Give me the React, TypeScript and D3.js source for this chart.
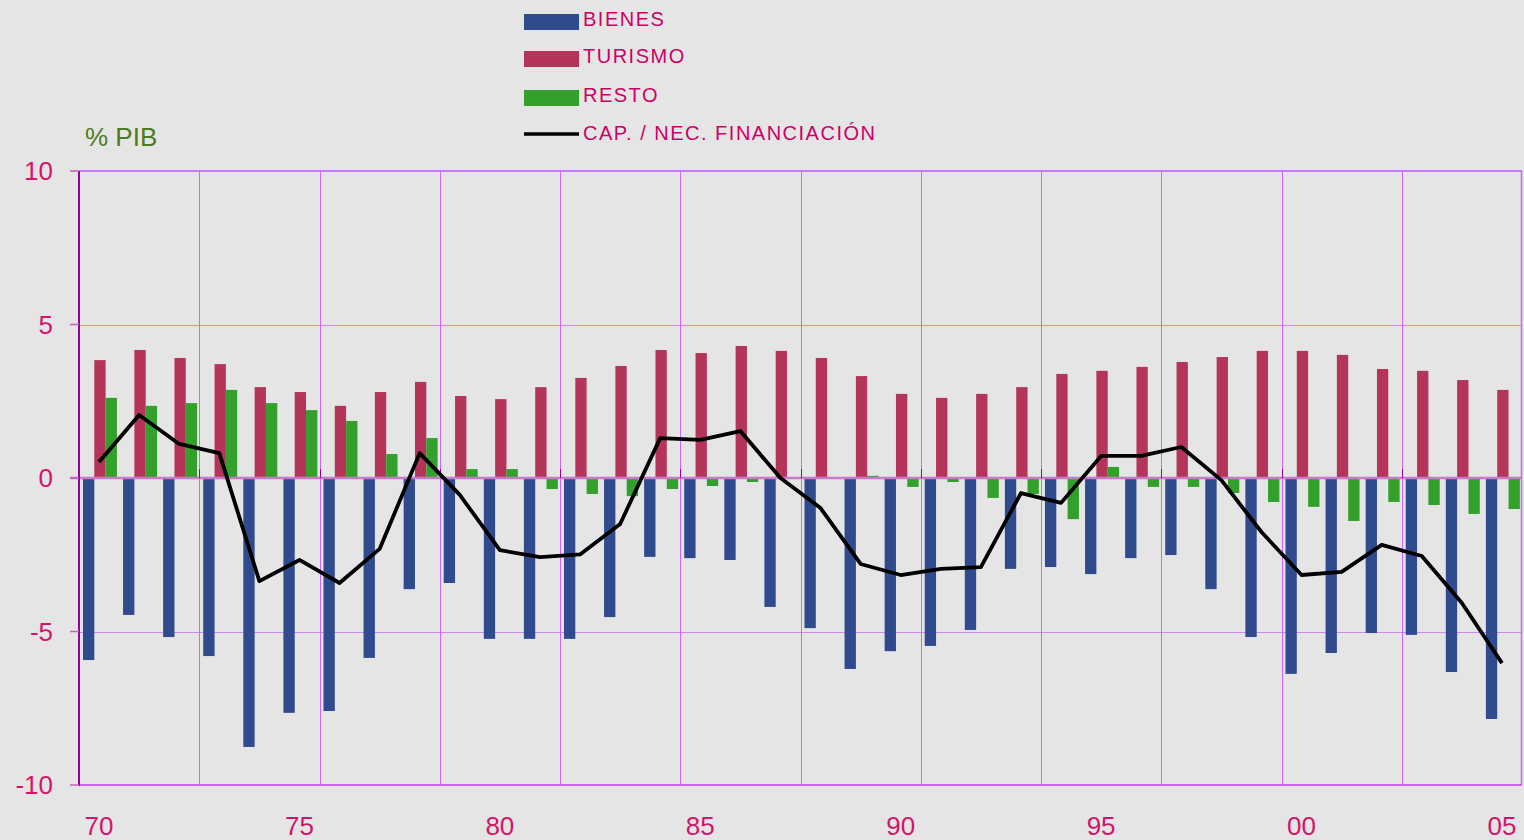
import React from 'react';
import * as d3 from 'd3';

// Balanza por cuenta corriente, % PIB (1970-2005)
const years = d3.range(1970, 2006).map(String);
const bienes = [-5.93, -4.46, -5.18, -5.80, -8.76, -7.65, -7.59, -5.86, -3.62, -3.42,
  -5.24, -5.24, -5.24, -4.53, -2.57, -2.61, -2.67, -4.20, -4.89, -6.22,
  -5.64, -5.47, -4.95, -2.96, -2.90, -3.13, -2.61, -2.51, -3.62, -5.18,
  -6.38, -5.70, -5.05, -5.11, -6.32, -7.85];
const turismo = [3.84, 4.17, 3.91, 3.71, 2.96, 2.80, 2.35, 2.80, 3.13, 2.67,
  2.57, 2.96, 3.26, 3.65, 4.17, 4.07, 4.30, 4.14, 3.91, 3.32,
  2.74, 2.61, 2.74, 2.96, 3.39, 3.49, 3.62, 3.78, 3.94, 4.14,
  4.14, 4.01, 3.55, 3.49, 3.19, 2.87];
const resto = [2.61, 2.35, 2.44, 2.87, 2.44, 2.21, 1.86, 0.78, 1.30, 0.29,
  0.29, -0.36, -0.52, -0.59, -0.36, -0.26, -0.13, 0.0, 0.02, 0.07,
  -0.29, -0.13, -0.65, -0.52, -1.34, 0.36, -0.29, -0.29, -0.49, -0.78,
  -0.94, -1.40, -0.78, -0.88, -1.17, -1.01];
const capNec = [0.52, 2.05, 1.11, 0.81, -3.36, -2.67, -3.42, -2.31, 0.81, -0.55,
  -2.35, -2.58, -2.49, -1.50, 1.30, 1.24, 1.53, 0.0, -0.98, -2.80,
  -3.16, -2.96, -2.90, -0.49, -0.81, 0.72, 0.72, 1.01, -0.07, -1.76,
  -3.16, -3.06, -2.18, -2.54, -4.07, -6.03];

const yTicks = [-10, -5, 0, 5, 10];
const xLabelYears = ['1970', '1975', '1980', '1985', '1990', '1995', '2000', '2005'];
const seriesKeys = ['bienes', 'turismo', 'resto'];
const seriesNames = ['BIENES', 'TURISMO', 'RESTO', 'CAP. / NEC. FINANCIACIÓN'];

const colors: Record<string, string> = {
  bienes: '#2f4b8e',
  turismo: '#b5355a',
  resto: '#33a02c',
};

const W = 1524;
const H = 840;
const margin = { top: 171, right: 2, bottom: 55, left: 79 };

// snap a coordinate to the pixel grid for 1px lines
const crisp = (v: number) => Math.round(v) + 0.5;

export default function App() {
  const x = d3.scaleBand<string>()
    .domain(years)
    .range([margin.left, W - margin.right])
    .paddingInner(0)
    .paddingOuter(0);

  const y = d3.scaleLinear()
    .domain([-10, 10])
    .range([H - margin.bottom, margin.top]);

  const inner = d3.scaleBand<string>()
    .domain(seriesKeys)
    .range([0, x.bandwidth()])
    .paddingInner(0)
    .paddingOuter(0.27)
    .align(0.65);

  const values: Record<string, number[]> = { bienes, turismo, resto };

  const line = d3.line<number>()
    .x((_, i) => (x(years[i]) as number) + x.bandwidth() / 2)
    .y(d => y(d));

  // vertical grid every 3 years
  const gridYears = years.filter((_, i) => i > 0 && i % 3 === 0);
  const x0 = margin.left;
  const x1 = W - margin.right;
  const labelColor = '#d4146a';
  const font = '"Liberation Sans", Arial, Helvetica, sans-serif';

  return (
    <div style={{ position: 'absolute', left: 0, top: 0, width: W, height: H, background: '#e5e5e5' }}>
      <svg width={W} height={H} style={{ display: 'block' }} fontFamily={font}>
        <rect x={0} y={0} width={W} height={H} fill="#e5e5e5" />

        {/* horizontal grid */}
        {[-5, 5].map(t => (
          <line key={'h' + t} x1={x0} x2={x1} y1={crisp(y(t))} y2={crisp(y(t))}
            stroke="#cc88f2" strokeWidth={1} />
        ))}
        <line x1={x0} x2={x1} y1={y(10)} y2={y(10)} stroke="#cc77ff" strokeWidth={2} />
        <line x1={x0} x2={x1} y1={y(-10)} y2={y(-10)} stroke="#cc66ee" strokeWidth={2} />
        {/* vertical grid */}
        {gridYears.map(yr => (
          <line key={'v' + yr} x1={crisp(x(yr) as number)} x2={crisp(x(yr) as number)} y1={y(10)} y2={y(-10)}
            stroke="#cc66ff" strokeWidth={1} />
        ))}
        <line x1={crisp(x1 - 1)} x2={crisp(x1 - 1)} y1={y(10)} y2={y(-10)} stroke="#cc66ff" strokeWidth={1.5} />

        {/* bars */}
        {seriesKeys.map(k => (
          <g key={k}>
            {values[k].map((v, i) => {
              const bx = (x(years[i]) as number) + (inner(k) as number);
              return (
                <rect key={i} x={bx} width={inner.bandwidth()}
                  y={y(Math.max(0, v))} height={Math.abs(y(v) - y(0))}
                  fill={colors[k]} />
              );
            })}
          </g>
        ))}

        {/* zero line and x ticks */}
        <line x1={x0 - 9} x2={x1} y1={y(0)} y2={y(0)} stroke="#c87ac8" strokeWidth={2.5} />
        {gridYears.map(yr => (
          <line key={'t' + yr} x1={crisp(x(yr) as number)} x2={crisp(x(yr) as number)} y1={y(0) - 9} y2={y(0)}
            stroke="#990099" strokeWidth={1} />
        ))}

        {/* y axis */}
        <line x1={x0} x2={x0} y1={y(10)} y2={y(-10) + 1} stroke="#990099" strokeWidth={2} />
        {yTicks.map(t => (
          <g key={'y' + t}>
            <line x1={x0 - 9} x2={x0} y1={y(t)} y2={y(t)} stroke="#c060c0" strokeWidth={1.5} />
            <text x={53} y={y(t)} dy="0.36em" textAnchor="end" fontSize={26} fill={labelColor}>{t}</text>
          </g>
        ))}

        {/* line series */}
        <path d={line(capNec) || ''} fill="none" stroke="#000" strokeWidth={3.8} strokeLinejoin="round" />

        {/* x labels */}
        {xLabelYears.map(yr => (
          <text key={'xl' + yr} x={(x(yr) as number) + x.bandwidth() / 2} y={835}
            textAnchor="middle" fontSize={26} fill={labelColor}>{yr.slice(2)}</text>
        ))}

        <text x={85} y={146} fontSize={26} fill="#4d7c1f">% PIB</text>

        {/* legend */}
        {seriesNames.map((name, i) => {
          const rowY = [22, 59, 98, 134][i];
          const baseY = [26, 63, 102, 140][i];
          return (
            <g key={name}>
              {i < 3 ? (
                <rect x={524} y={rowY - 8} width={55} height={16} fill={colors[seriesKeys[i]]} />
              ) : (
                <line x1={524} x2={579} y1={rowY} y2={rowY} stroke="#000" strokeWidth={3.5} />
              )}
              <text x={583} y={baseY} fontSize={20} letterSpacing={1.5} fill="#cc0066">{name}</text>
            </g>
          );
        })}
      </svg>
    </div>
  );
}
